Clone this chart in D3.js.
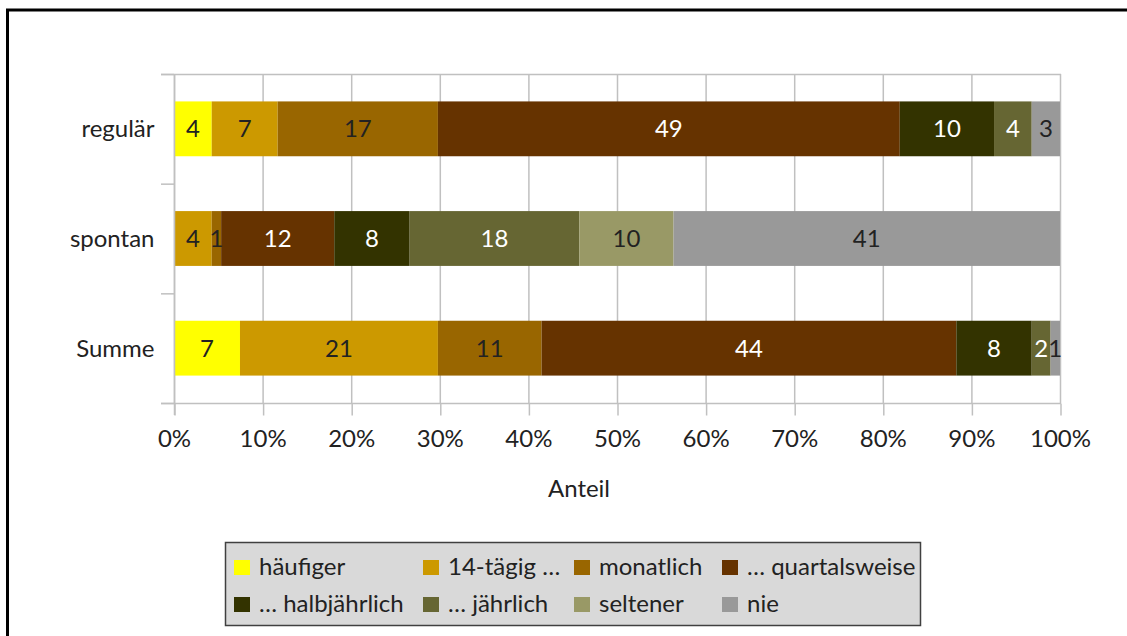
<!DOCTYPE html>
<html>
<head>
<meta charset="utf-8">
<script src="https://cdn.jsdelivr.net/npm/d3@7"></script>
<style>
  html, body { margin: 0; padding: 0; background: #fff; }
  svg { display: block; font-family: Lato, "Open Sans", sans-serif; }
</style>
</head>
<body>
<svg id="chart" width="1127" height="636"></svg>
<script>
// Gruppen (Zeilen des Diagramms)
const categories = ["regulär", "spontan", "Summe"];

// Häufigkeitsstufen (Reihen)
const seriesNames = ["häufiger", "14-tägig …", "monatlich", "… quartalsweise",
                     "… halbjährlich", "… jährlich", "seltener", "nie"];
const seriesColors = ["#FFFF00", "#CC9900", "#996600", "#663300",
                      "#333300", "#666633", "#999966", "#999999"];
const seriesLabelColors = ["#222", "#222", "#222", "#fff", "#fff", "#fff", "#222", "#222"];

// Anzahl je Reihe, in der Reihenfolge der Gruppen
const haeufiger      = [4, 0, 7];
const vierzehnTaegig = [7, 4, 21];
const monatlich      = [17, 1, 11];
const quartalsweise  = [49, 12, 44];
const halbjaehrlich  = [10, 8, 8];
const jaehrlich      = [4, 18, 2];
const seltener       = [0, 10, 0];
const nie            = [3, 41, 1];
const seriesValues = [haeufiger, vierzehnTaegig, monatlich, quartalsweise,
                      halbjaehrlich, jaehrlich, seltener, nie];

const xTicks = [0, 0.1, 0.2, 0.3, 0.4, 0.5, 0.6, 0.7, 0.8, 0.9, 1.0];
const xTickLabels = ["0%", "10%", "20%", "30%", "40%", "50%", "60%", "70%", "80%", "90%", "100%"];
const xTitle = "Anteil";

// Tabelle für d3.stack aufbauen
const rows = categories.map((c, i) => {
  const r = { category: c };
  seriesNames.forEach((s, j) => { r[s] = seriesValues[j][i]; });
  return r;
});

const svg = d3.select("#chart");
const textColor = "#222";
const gridColor = "#C0C0C0";
const fontSize = 24;

// Rahmen des Diagrammbereichs
svg.append("rect")
  .attr("x", 7.5).attr("y", 10).attr("width", 1140).attr("height", 660)
  .attr("fill", "none").attr("stroke", "#000").attr("stroke-width", 3);

const plot = { left: 174, right: 1060, top: 74, bottom: 403 };

const x = d3.scaleLinear().domain([0, 1]).range([plot.left, plot.right]);
const y = d3.scaleBand().domain(categories).range([plot.top, plot.bottom]).paddingInner(0.5).paddingOuter(0.25);
const yBand = d3.scaleBand().domain(categories).range([plot.top, plot.bottom]);

// Senkrechte Gitterlinien
svg.append("g").selectAll("line").data(xTicks).join("line")
  .attr("x1", d => x(d) + 0.5).attr("x2", d => x(d) + 0.5)
  .attr("y1", plot.top).attr("y2", plot.bottom)
  .attr("stroke", gridColor).attr("stroke-width", 1.5);

// Obere Begrenzung
svg.append("line")
  .attr("x1", plot.left - 13).attr("x2", plot.right + 1)
  .attr("y1", plot.top + 0.5).attr("y2", plot.top + 0.5)
  .attr("stroke", gridColor).attr("stroke-width", 1.5);

// Stapel (normiert auf 100 %)
const stack = d3.stack().keys(seriesNames).offset(d3.stackOffsetExpand);
const stacked = stack(rows);

const layers = svg.append("g").selectAll("g").data(stacked).join("g")
  .attr("fill", (d, i) => seriesColors[i]);

layers.selectAll("rect").data(d => d).join("rect")
  .attr("x", d => x(d[0]))
  .attr("width", d => x(d[1]) - x(d[0]))
  .attr("y", d => y(d.data.category))
  .attr("height", y.bandwidth());

// Datenbeschriftungen
const labels = svg.append("g").attr("font-size", fontSize).attr("text-anchor", "middle");
stacked.forEach((layer, i) => {
  layer.forEach(d => {
    const v = d.data[layer.key];
    if (!v) return;
    labels.append("text")
      .attr("x", (x(d[0]) + x(d[1])) / 2)
      .attr("y", y(d.data.category) + y.bandwidth() / 2)
      .attr("dy", "0.36em")
      .attr("fill", seriesLabelColors[i])
      .text(v);
  });
});

// Y-Achse
const yAxis = svg.append("g").attr("transform", `translate(${plot.left + 0.5},0)`)
  .call(d3.axisLeft(yBand).tickSize(0).tickPadding(20));
yAxis.select(".domain").attr("stroke", gridColor).attr("stroke-width", 1.5)
  .attr("d", `M0,${plot.top}V${plot.bottom + 12}`);
yAxis.selectAll("text").attr("font-size", fontSize).attr("fill", textColor)
  .attr("font-family", "Lato, 'Open Sans', sans-serif").attr("dy", "0.36em");
yAxis.selectAll(".tick line").remove();
// Trennstriche zwischen den Gruppen
const bounds = [plot.top, ...categories.map(c => yBand(c) + yBand.bandwidth())];
svg.append("g").selectAll("line").data(bounds).join("line")
  .attr("x1", plot.left - 13).attr("x2", plot.left)
  .attr("y1", d => d + 0.5).attr("y2", d => d + 0.5)
  .attr("stroke", gridColor).attr("stroke-width", 1.5);

// X-Achse
const xAxis = svg.append("g").attr("transform", `translate(0,${plot.bottom + 0.5})`)
  .call(d3.axisBottom(x).tickValues(xTicks).tickFormat((d, i) => xTickLabels[i]).tickSizeOuter(0).tickSize(12).tickPadding(14));
xAxis.select(".domain").attr("stroke", gridColor).attr("stroke-width", 1.5)
  .attr("d", `M${plot.left - 13},0H${plot.right + 1}`);
xAxis.selectAll(".tick line").attr("stroke", gridColor).attr("stroke-width", 1.5).attr("transform", "translate(0.5,0)");
xAxis.selectAll("text").attr("font-size", fontSize).attr("fill", textColor)
  .attr("font-family", "Lato, 'Open Sans', sans-serif");

// Achsentitel
svg.append("text")
  .attr("x", 579).attr("y", 497)
  .attr("text-anchor", "middle").attr("font-size", fontSize).attr("fill", textColor)
  .text(xTitle);

// Legende
const legend = svg.append("g");
legend.append("rect")
  .attr("x", 225.5).attr("y", 542.5).attr("width", 695).attr("height", 83)
  .attr("fill", "#D9D9D9").attr("stroke", "#404040").attr("stroke-width", 1.5);
const colX = [234, 423, 574, 722];
const rowY = [560, 597];
seriesNames.forEach((s, i) => {
  const cx = colX[i % 4], cy = rowY[Math.floor(i / 4)];
  legend.append("rect").attr("x", cx).attr("y", cy).attr("width", 16).attr("height", 15)
    .attr("fill", seriesColors[i]);
  legend.append("text").attr("x", cx + 25).attr("y", cy + 15)
    .attr("font-size", fontSize).attr("fill", textColor).text(s);
});
</script>
</body>
</html>
